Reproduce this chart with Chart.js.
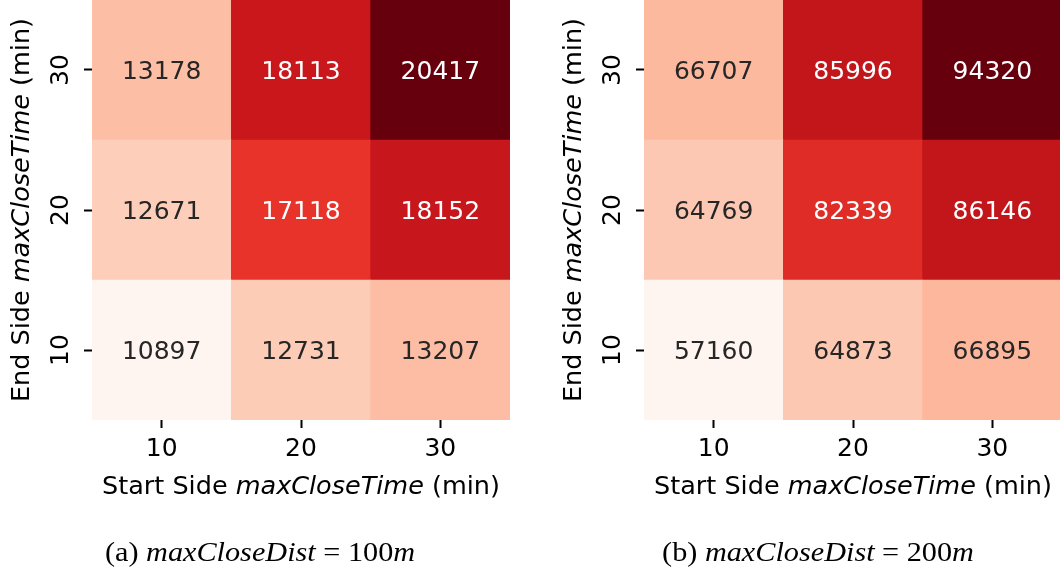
<!DOCTYPE html>
<html>
<head>
<meta charset="utf-8">
<script src="https://cdn.jsdelivr.net/npm/chart.js@4.4.0/dist/chart.umd.min.js"></script>
<style>
  html, body { margin: 0; padding: 0; background: #fff; overflow: hidden; }
  body { width: 1060px; height: 571px; position: relative; }
  canvas { position: absolute; top: 0; }
  #chartA { left: 0; }
  #chartB { left: 552px; }
</style>
</head>
<body>
<canvas id="chartA" width="530" height="571"></canvas>
<canvas id="chartB" width="530" height="571"></canvas>
<script>
// axis categories (minutes)
const startSide = ['10', '20', '30'];
const endSide = [10, 20, 30];

// (a) maxCloseDist = 100m, one array per End Side row
const dist100End10 = [10897, 12731, 13207];
const dist100End20 = [12671, 17118, 18152];
const dist100End30 = [13178, 18113, 20417];

// (b) maxCloseDist = 200m
const dist200End10 = [57160, 64873, 66895];
const dist200End20 = [64769, 82339, 86146];
const dist200End30 = [66707, 85996, 94320];

const FONT = '"DejaVu Sans", sans-serif';
const FS = 25;      // cell values and tick labels
const TFS = 25.5;   // axis titles

// matplotlib "Reds" anchor colours
const reds = ['#fff5f0', '#fee0d2', '#fcbba1', '#fc9272', '#fb6a4a', '#ef3b2c', '#cb181d', '#a50f15', '#67000d'];

function hexToRgb(h) {
    return [parseInt(h.slice(1, 3), 16), parseInt(h.slice(3, 5), 16), parseInt(h.slice(5, 7), 16)];
}

function redsColor(t) {
    t = Math.max(0, Math.min(1, t));
    const pos = t * (reds.length - 1);
    const i = Math.min(Math.floor(pos), reds.length - 2);
    const f = pos - i;
    const a = hexToRgb(reds[i]), b = hexToRgb(reds[i + 1]);
    const c = a.map((v, k) => Math.round(v + (b[k] - v) * f));
    return `rgb(${c[0]}, ${c[1]}, ${c[2]})`;
}

// draw a run of text pieces with different fonts, centred on x
function drawRich(ctx, parts, x, y) {
    let total = 0;
    parts.forEach(p => { ctx.font = p.font; total += ctx.measureText(p.text).width; });
    let cx = x - total / 2;
    ctx.textAlign = 'left';
    parts.forEach(p => {
        ctx.font = p.font;
        ctx.fillText(p.text, cx, y);
        cx += ctx.measureText(p.text).width;
    });
}

const upright = `${FS}px ${FONT}`;
const titleUp = `${TFS}px ${FONT}`;
const titleObl = `oblique ${TFS}px ${FONT}`;
const capUp = '27px "Liberation Serif", "DejaVu Serif", serif';
const capIt = 'italic 27px "Liberation Serif", "DejaVu Serif", serif';

const annotate = {
    id: 'annotate',
    afterDatasetsDraw(chart, args, opts) {
        const ctx = chart.ctx;
        const area = chart.chartArea;
        const { lo, hi } = opts;
        ctx.save();
        ctx.font = upright;
        ctx.textAlign = 'center';
        ctx.textBaseline = 'alphabetic';
        chart.data.datasets.forEach((ds, di) => {
            const meta = chart.getDatasetMeta(di);
            meta.data.forEach((bar, i) => {
                const v = ds.counts[i];
                const t = (v - lo) / (hi - lo);
                ctx.fillStyle = t > 0.5 ? '#ffffff' : '#262626';
                const cy = (bar.y + bar.base) / 2;
                ctx.fillText(String(v), bar.x, cy + 0.365 * FS);
            });
        });

        // rotated y tick labels
        const ys = chart.scales.y;
        ctx.fillStyle = '#000';
        endSide.forEach(v => {
            ctx.save();
            ctx.translate(68, ys.getPixelForValue(v));
            ctx.rotate(-Math.PI / 2);
            ctx.textAlign = 'center';
            ctx.fillText(String(v), 0, 0);
            ctx.restore();
        });

        // axis titles
        ctx.save();
        ctx.translate(29, (area.top + area.bottom) / 2);
        ctx.rotate(-Math.PI / 2);
        drawRich(ctx, [
            { text: 'End Side ', font: titleUp },
            { text: 'maxCloseTime', font: titleObl },
            { text: ' (min)', font: titleUp }
        ], 0, 0);
        ctx.restore();
        drawRich(ctx, [
            { text: 'Start Side ', font: titleUp },
            { text: 'maxCloseTime', font: titleObl },
            { text: ' (min)', font: titleUp }
        ], (area.left + area.right) / 2, 494);

        // sub-figure caption (stretched a little to mimic LaTeX math spacing)
        ctx.save();
        ctx.translate(opts.captionX, 561);
        ctx.scale(1.12, 1);
        drawRich(ctx, [
            { text: opts.tag + ' ', font: capUp },
            { text: 'maxCloseDist', font: capIt },
            { text: ' = ' + opts.dist, font: capUp },
            { text: 'm', font: capIt }
        ], 0, 0);
        ctx.restore();
        ctx.restore();
    }
};

function makeHeatmap(canvasId, rows, tag, dist, captionX) {
    const all = rows.flat();
    const lo = Math.min(...all), hi = Math.max(...all);
    const datasets = rows.map((row, r) => ({
        label: 'End ' + endSide[r],
        counts: row,
        data: row.map(() => [endSide[r] - 5, endSide[r] + 5]),
        backgroundColor: row.map(v => redsColor((v - lo) / (hi - lo))),
        borderWidth: 0,
        grouped: false,
        barPercentage: 1,
        categoryPercentage: 1
    }));

    return new Chart(document.getElementById(canvasId), {
        type: 'bar',
        data: { labels: startSide, datasets },
        options: {
            responsive: false,
            animation: false,
            layout: { padding: { left: 0, right: 20, top: 0, bottom: 0 } },
            plugins: {
                legend: { display: false },
                tooltip: { enabled: false },
                annotate: { lo, hi, tag, dist, captionX }
            },
            scales: {
                x: {
                    type: 'category',
                    offset: true,
                    border: { display: false },
                    grid: { offset: false, drawOnChartArea: false, color: '#000', tickLength: 8, tickWidth: 2 },
                    ticks: { color: '#000', font: { family: FONT, size: FS }, padding: 6, maxRotation: 0 },
                    afterFit: (scale) => { scale.height = 151; }
                },
                y: {
                    type: 'linear',
                    min: 5,
                    max: 35,
                    border: { display: false },
                    grid: { drawOnChartArea: false, color: '#000', tickLength: 8, tickWidth: 2 },
                    ticks: { display: false },
                    afterBuildTicks: (scale) => { scale.ticks = endSide.map(v => ({ value: v })); },
                    afterFit: (scale) => { scale.width = 92; }
                }
            }
        },
        plugins: [annotate]
    });
}

makeHeatmap('chartA', [dist100End10, dist100End20, dist100End30], '(a)', '100', 260);
makeHeatmap('chartB', [dist200End10, dist200End20, dist200End30], '(b)', '200', 266);
</script>
</body>
</html>
